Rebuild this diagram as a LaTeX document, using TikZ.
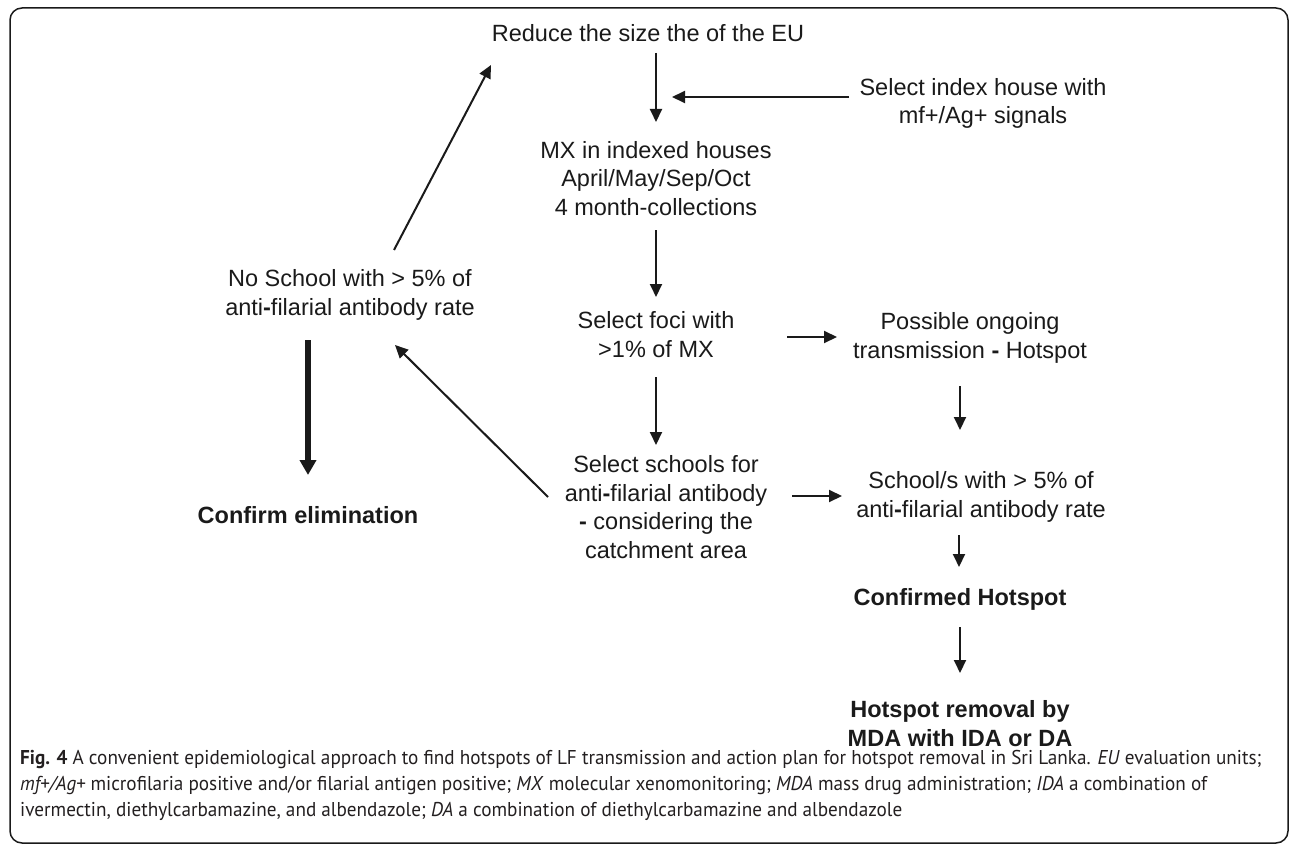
\documentclass[tikz,border=0pt]{standalone}
\usepackage{fontspec}
\setmainfont{Liberation Sans}
\newfontfamily\capfont[FakeStretch=0.96]{PT Sans}
\usetikzlibrary{arrows.meta}
\definecolor{ink}{HTML}{1A1A1A}
\definecolor{capink}{HTML}{231F20}
\begin{document}
\begin{tikzpicture}[x=1pt,y=-1pt,
  txt/.style={align=center,inner sep=0pt,anchor=base,text=ink,
    font=\fontsize{23.5}{28.5}\selectfont},
  bld/.style={txt,font=\fontsize{23.5}{28.5}\selectfont\bfseries},
  arr/.style={draw=ink,line width=2pt,-{Triangle[length=13pt,width=12pt]}},
  bigarr/.style={draw=ink,line width=5.5pt,-{Triangle[length=15pt,width=16pt]}},
  captxt/.style={align=left,inner sep=0pt,anchor=base west,text=capink,
    font=\capfont\fontsize{20}{26}\selectfont}
]
\useasboundingbox (0,0) rectangle (1290,845);
\draw[rounded corners=12pt,line width=1.5pt,draw=ink] (10,8) rectangle (1288,843);

% nodes (anchor = baseline of the last line)
\node[txt] (reduce) at (648,42) {Reduce the size the of the EU};
\node[txt] (index) at (983,124) {Select index house with\\mf+/Ag+ signals};
\node[txt] (mx) at (656,215) {MX in indexed houses\\April/May/Sep/Oct\\4 month-collections};
\node[txt] (foci) at (656,357) {Select foci with\\>1\% of MX};
\node[txt] (possible) at (970,358) {Possible ongoing\\transmission \textbf{-} Hotspot};
\node[txt] (schools) at (666,558) {Select schools for\\anti\textbf{-}filarial antibody\\\textbf{-} considering the\\catchment area};
\node[txt] (school5) at (981,517) {School/s with > 5\% of\\anti\textbf{-}filarial antibody rate};
\node[bld] (confirmed) at (960,605) {Confirmed Hotspot};
\node[bld] (removal) at (960,746) {Hotspot removal by\\MDA with IDA or DA};
\node[txt] (noschool) at (350,315) {No School with > 5\% of\\anti\textbf{-}filarial antibody rate};
\node[bld] (confirm) at (308,523) {Confirm elimination};

% connector ends
\coordinate (a1) at (656,53);   \coordinate (a2) at (656,122);
\coordinate (b1) at (849,97);   \coordinate (b2) at (672,97);
\coordinate (c1) at (656,230);  \coordinate (c2) at (656,297);
\coordinate (d1) at (656,377);  \coordinate (d2) at (656,445);
\coordinate (e1) at (787,337);  \coordinate (e2) at (837,337);
\coordinate (f1) at (960,386);  \coordinate (f2) at (960,430);
\coordinate (g1) at (792,496);  \coordinate (g2) at (842,496);
\coordinate (h1) at (959,535);  \coordinate (h2) at (959,567);
\coordinate (i1) at (960,627);  \coordinate (i2) at (960,673);
\coordinate (j1) at (394,250);  \coordinate (j2) at (491,65);
\coordinate (k1) at (548,497);  \coordinate (k2) at (395,345);
\coordinate (l1) at (308,340);  \coordinate (l2) at (308,475);

\draw[arr] (a1) -- (a2);
\draw[arr] (b1) -- (b2);
\draw[arr] (c1) -- (c2);
\draw[arr] (d1) -- (d2);
\draw[arr] (e1) -- (e2);
\draw[arr] (f1) -- (f2);
\draw[arr] (g1) -- (g2);
\draw[arr] (h1) -- (h2);
\draw[arr] (i1) -- (i2);
\draw[arr] (j1) -- (j2);
\draw[arr] (k1) -- (k2);
\draw[bigarr] (l1) -- (l2);

% caption
\node[captxt] (caption) at (20,816) {\textbf{Fig. 4} A convenient epidemiological approach to find hotspots of LF transmission and action plan for hotspot removal in Sri Lanka. \textit{EU} evaluation units;\\
\textit{mf+/Ag+} microfilaria positive and/or filarial antigen positive; \textit{MX} molecular xenomonitoring; \textit{MDA} mass drug administration; \textit{IDA} a combination of\\
ivermectin, diethylcarbamazine, and albendazole; \textit{DA} a combination of diethylcarbamazine and albendazole};
\end{tikzpicture}
\end{document}
